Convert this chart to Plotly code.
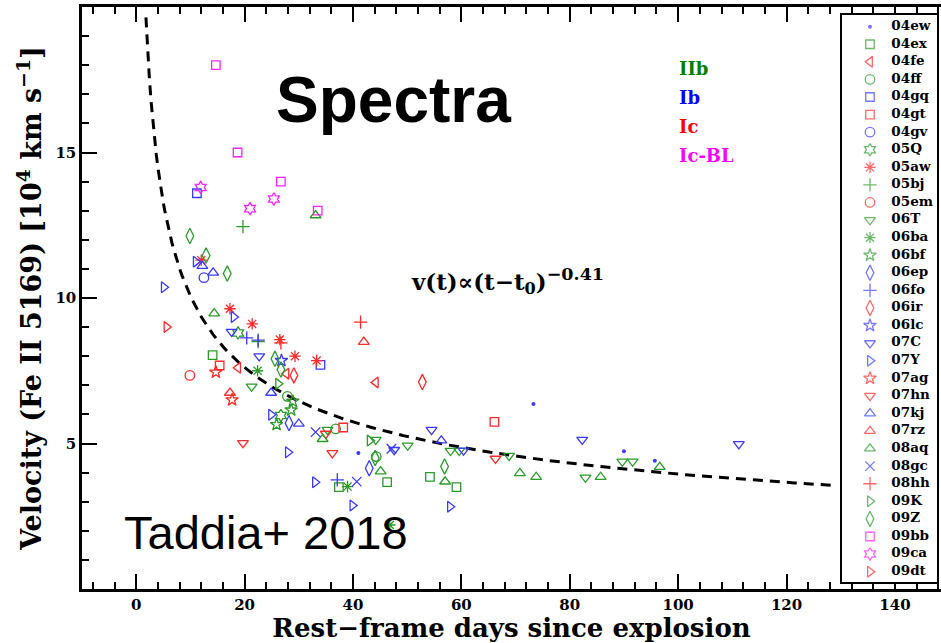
import numpy as np
import plotly.graph_objects as go

# Fe II 5169 velocity measurements (days since explosion, 10^4 km/s), one list pair per SN
sn_names = ["04ew", "04ex", "04fe", "04ff", "04gq", "04gt", "04gv", "05Q", "05aw", "05bj",
            "05em", "06T", "06ba", "06bf", "06ep", "06fo", "06ir", "06lc", "07C", "07Y",
            "07ag", "07hn", "07kj", "07rz", "08aq", "08gc", "08hh", "09K", "09Z", "09bb",
            "09ca", "09dt"]

sn_types = ["Ib", "IIb", "Ic", "IIb", "Ib", "Ic", "Ib", "IIb", "Ic", "IIb",
            "Ic", "IIb", "IIb", "IIb", "Ib", "Ib", "Ic", "Ib", "Ib", "Ib",
            "Ic", "Ic", "Ib", "Ic", "IIb", "Ib", "Ic", "IIb", "IIb", "Ic-BL",
            "Ic-BL", "Ic"]

sn_symbols = ["circle", "square-open", "triangle-left-open", "circle-open", "square-open",
              "square-open", "circle-open", "hexagram-open", "asterisk-open", "cross-thin-open",
              "circle-open", "triangle-down-open", "asterisk-open", "star-open", "diamond-tall-open",
              "cross-thin-open", "diamond-tall-open", "star-open", "triangle-down-open", "triangle-right-open",
              "star-open", "triangle-down-open", "triangle-up-open", "triangle-up-open", "triangle-up-open",
              "x-thin-open", "cross-thin-open", "triangle-right-open", "diamond-tall-open", "square-open",
              "hexagram-open", "triangle-right-open"]

days = {
    "04ew": [41.0, 73.3, 90.0, 95.7],
    "04ex": [14.1, 37.4, 46.3, 54.2, 59.1],
    "04fe": [18.8, 27.7, 44.2],
    "04ff": [27.9, 36.8, 44.3],
    "04gq": [11.2, 34.0],
    "04gt": [15.4, 38.2, 66.1],
    "04gv": [12.5],
    "05Q": [18.8, 26.7],
    "05aw": [12.0, 17.3, 21.4, 26.5, 29.3, 33.3],
    "05bj": [19.7, 22.5],
    "05em": [9.9],
    "06T": [21.3, 35.3, 44.2, 50.1, 58.0, 59.6, 68.8, 82.9, 89.7, 91.6],
    "06ba": [22.4, 39.0, 46.8],
    "06bf": [25.9, 28.6, 28.9],
    "06ep": [28.2, 43.0],
    "06fo": [20.4, 22.5, 37.1],
    "06ir": [29.1, 52.8],
    "06lc": [26.8],
    "07C": [17.6, 22.7, 47.6, 54.5, 60.4, 82.3, 111.2],
    "07Y": [5.1, 11.0, 18.0, 24.9, 28.0, 33.0, 39.9, 57.9],
    "07ag": [14.7, 17.7],
    "07hn": [19.7, 35.0, 36.2, 66.3],
    "07kj": [12.2, 14.2, 24.9, 30.0, 56.3],
    "07rz": [17.3, 42.0],
    "08aq": [14.4, 33.1, 34.4, 45.1, 57.0, 70.8, 73.8, 85.7, 96.6],
    "08gc": [33.1, 40.7, 47.1],
    "08hh": [26.7, 41.4],
    "09K": [26.2, 43.1],
    "09Z": [9.9, 12.9, 16.8, 25.6, 26.7, 44.1, 56.9],
    "09bb": [14.7, 18.7, 26.7, 33.5],
    "09ca": [11.9, 21.0, 25.4],
    "09dt": [5.6],
}

velocity = {
    "04ew": [4.67, 6.36, 4.73, 4.41],
    "04ex": [8.04, 3.50, 3.67, 3.85, 3.50],
    "04fe": [7.60, 7.40, 7.10],
    "04ff": [6.62, 5.50, 4.55],
    "04gq": [13.60, 7.70],
    "04gt": [7.68, 5.55, 5.74],
    "04gv": [10.70],
    "05Q": [8.80, 5.96],
    "05aw": [11.30, 9.63, 9.11, 8.57, 8.00, 7.85],
    "05bj": [12.45, 8.50],
    "05em": [7.34],
    "06T": [6.96, 5.47, 5.13, 4.93, 4.75, 4.75, 4.58, 3.83, 4.38, 4.38],
    "06ba": [7.50, 3.52, 2.20],
    "06bf": [5.65, 6.15, 6.45],
    "06ep": [5.70, 4.15],
    "06fo": [8.63, 8.55, 3.75],
    "06ir": [7.34, 7.11],
    "06lc": [7.85],
    "07C": [8.84, 8.00, 4.78, 5.47, 4.76, 5.13, 4.98],
    "07Y": [10.37, 11.25, 9.35, 5.99, 4.70, 3.67, 2.87, 2.83],
    "07ag": [7.45, 6.50],
    "07hn": [5.02, 5.34, 4.67, 4.48],
    "07kj": [11.10, 10.87, 6.74, 5.68, 5.10],
    "07rz": [6.74, 8.49],
    "08aq": [9.47, 12.84, 5.15, 4.04, 3.69, 3.98, 3.85, 3.85, 4.19],
    "08gc": [5.39, 3.69, 4.82],
    "08hh": [8.46, 9.17],
    "09K": [7.05, 5.10],
    "09Z": [12.13, 11.46, 10.84, 7.91, 7.54, 4.50, 4.21],
    "09bb": [18.00, 15.00, 14.00, 13.00],
    "09ca": [13.80, 13.07, 13.40],
    "09dt": [9.00],
}

# Power-law fit v(t) = A (t - t0)^-0.41
fit_amp = 26.1
fit_t0 = -0.2
fit_index = -0.41
fit_t_start, fit_t_end = 1.8, 128.7

type_marker_colors = {"IIb": "#2b9a2b", "Ib": "#3a3aff", "Ic": "#ff2a2a", "Ic-BL": "#ff22ff"}
type_text_colors = {"IIb": "#008000", "Ib": "#0000ff", "Ic": "#ff0000", "Ic-BL": "#ff00ff"}
type_labels = ["IIb", "Ib", "Ic", "Ic-BL"]

serif = "DejaVu Serif"
sans = "Liberation Sans"


def marker_size(symbol):
    if symbol == "circle":
        return 4
    if symbol.startswith("square"):
        return 8.5
    if symbol.startswith("diamond-tall"):
        return 11
    return 9.5


fig = go.Figure()

fit_t = np.linspace(fit_t_start, fit_t_end, 400)
fit_v = fit_amp * (fit_t - fit_t0) ** fit_index
fig.add_trace(go.Scatter(
    x=fit_t, y=fit_v, mode="lines", showlegend=False, hoverinfo="skip",
    line=dict(color="black", width=3, dash="10px,7px"),
))

for name, kind, symbol in zip(sn_names, sn_types, sn_symbols):
    color = type_marker_colors[kind]
    fig.add_trace(go.Scatter(
        x=days[name], y=velocity[name], mode="markers", name=name, showlegend=False,
        marker=dict(
            symbol=symbol, size=marker_size(symbol), color=color,
            line=dict(color=color, width=0 if symbol == "circle" else 1.3),
        ),
    ))

# Key panel on its own small subplot (x2/y2): one row per SN, top to bottom
n_rows = len(sn_names)
row_index = list(range(n_rows))
key_y_range = [n_rows - 1 + 0.59, -0.666]
fig.add_trace(go.Scatter(
    x=[0, 1, 1, 0, 0],
    y=[key_y_range[0], key_y_range[0], key_y_range[1], key_y_range[1], key_y_range[0]],
    xaxis="x2", yaxis="y2", mode="lines", fill="toself", fillcolor="white",
    line=dict(width=0), showlegend=False, hoverinfo="skip",
))
fig.add_trace(go.Scatter(
    x=[0.295] * n_rows, y=row_index, xaxis="x2", yaxis="y2", mode="markers",
    showlegend=False, hoverinfo="skip",
    marker=dict(
        symbol=sn_symbols,
        size=[marker_size(s) for s in sn_symbols],
        color=[type_marker_colors[k] for k in sn_types],
        line=dict(color=[type_marker_colors[k] for k in sn_types],
                  width=[0 if s == "circle" else 1.3 for s in sn_symbols]),
    ),
))
fig.add_trace(go.Scatter(
    x=[0.52] * n_rows, y=row_index, xaxis="x2", yaxis="y2", mode="text",
    text=sn_names, textposition="middle right", showlegend=False, hoverinfo="skip",
    textfont=dict(family=serif, size=13.5, color="black", weight="bold"),
))

# Panel labels
fig.add_annotation(x=47.4, y=16.8, xref="x", yref="y", text="Spectra", showarrow=False,
                   font=dict(family=sans, size=64, color="black", weight="bold"))
fig.add_annotation(x=-2.6, y=1.95, xref="x", yref="y", text="Taddia+ 2018", showarrow=False,
                   xanchor="left", font=dict(family=sans, size=47, color="black"))

type_y = [17.9, 16.9, 15.88, 14.91]
for label, yy in zip(type_labels, type_y):
    fig.add_annotation(x=99.8, y=yy, xref="x", yref="y", text=label, showarrow=False,
                       xanchor="left",
                       font=dict(family=serif, size=18, color=type_text_colors[label], weight="bold"))

fig.add_annotation(x=50.3, y=10.6, xref="x", yref="y",
                   text="v(t)\u221d(t\u2212t<sub>0</sub>)"
                        "<sup><span style='font-size:17.5px'>\u22120.41</span></sup>",
                   showarrow=False, xanchor="left",
                   font=dict(family=serif, size=23, color="black", weight="bold"))

tick_font = dict(family=serif, size=15, color="black", weight="bold")
minor_common = dict(ticks="inside", ticklen=7, tickwidth=2, tickcolor="black", showgrid=False)

fig.update_layout(
    width=941, height=643,
    margin=dict(l=82, r=0, t=7, b=54),
    paper_bgcolor="white", plot_bgcolor="white",
    showlegend=False,
    xaxis=dict(
        range=[-10, 148.5], dtick=20, tick0=0,
        showline=True, linecolor="black", linewidth=2.5, mirror="allticks",
        ticks="inside", ticklen=15, tickwidth=2, tickcolor="black",
        showgrid=False, zeroline=False, tickfont=tick_font,
        minor=dict(dtick=4, **minor_common),
        title=dict(text="Rest\u2212frame days since explosion",
                   font=dict(family=serif, size=26, color="black", weight="bold"), standoff=4),
    ),
    yaxis=dict(
        range=[0, 20], tickvals=[5, 10, 15],
        showline=True, linecolor="black", linewidth=2.5, mirror=False,
        ticks="inside", ticklen=15, tickwidth=2, tickcolor="black",
        showgrid=False, zeroline=False, tickfont=tick_font,
        minor=dict(tickvals=[v for v in range(1, 20) if v % 5], **minor_common),
        title=dict(text="Velocity (Fe II 5169) [10<sup>4</sup> km s<sup>\u22121</sup>]",
                   font=dict(family=serif, size=27, color="black", weight="bold"), standoff=6),
    ),
    xaxis2=dict(
        domain=[0.8847, 0.9953], range=[0, 1], anchor="y2",
        showline=True, linecolor="black", linewidth=2, mirror=True,
        showticklabels=False, ticks="", showgrid=False, zeroline=False, fixedrange=True,
    ),
    yaxis2=dict(
        domain=[0.012, 0.9863], range=key_y_range, anchor="x2",
        showline=True, linecolor="black", linewidth=2, mirror=True,
        showticklabels=False, ticks="", showgrid=False, zeroline=False, fixedrange=True,
    ),
)

fig.write_html("out.html")
